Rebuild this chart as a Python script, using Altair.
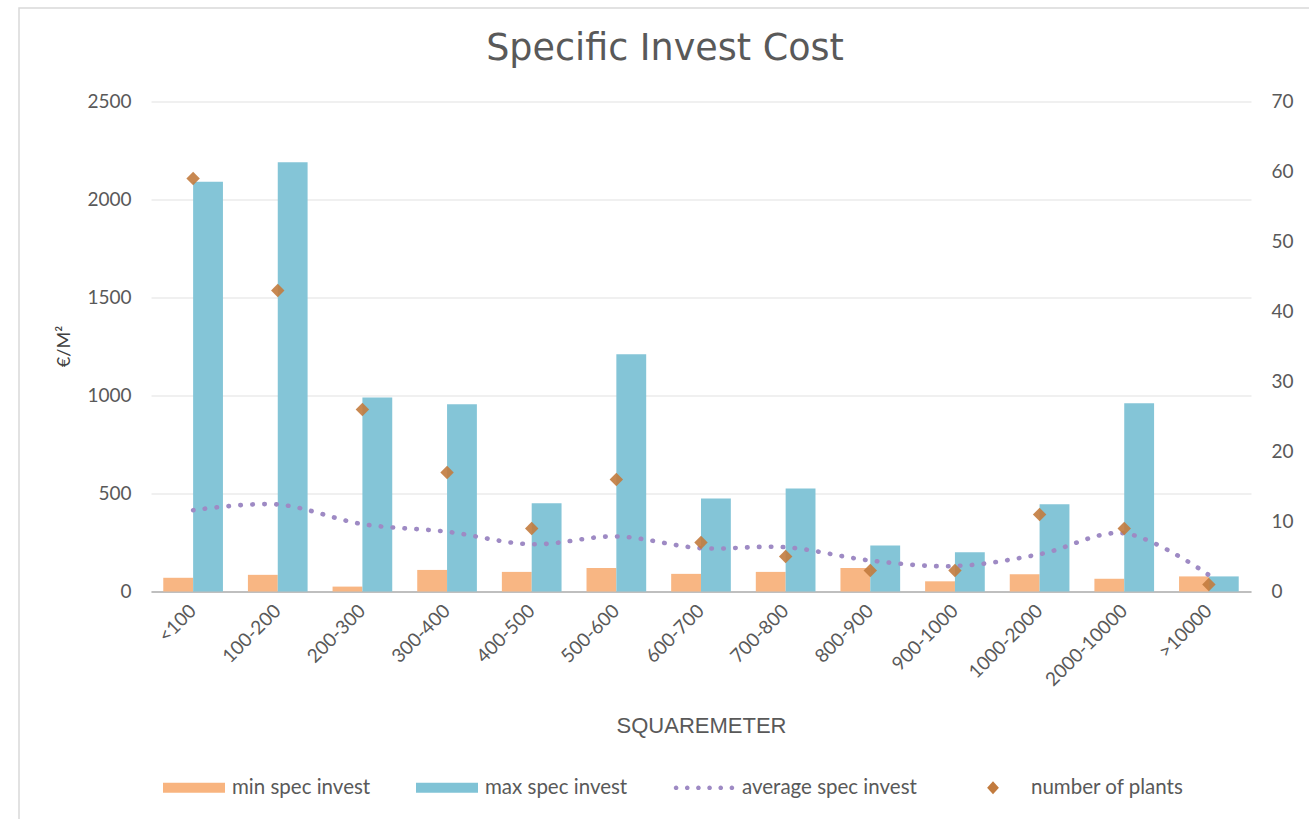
import altair as alt
import pandas as pd

# Size classes (m²)
categories = ["<100", "100-200", "200-300", "300-400", "400-500", "500-600", "600-700",
              "700-800", "800-900", "900-1000", "1000-2000", "2000-10000", ">10000"]
min_invest = [70, 85, 25, 110, 100, 120, 90, 100, 120, 52, 88, 65, 77]
max_invest = [2090, 2190, 990, 955, 450, 1210, 475, 525, 235, 200, 445, 960, 77]
avg_invest = [415, 444, 344, 305, 241, 281, 221, 226, 158, 130, 190, 297, 84]
num_plants = [59, 43, 26, 17, 9, 16, 7, 5, 3, 3, 11, 9, 1]

series = ["min spec invest", "max spec invest", "average spec invest", "number of plants"]
colors = ["#F8B47F", "#80C3D6", "#9E8AC4", "#C27B3E"]

df = pd.DataFrame({
    "cat": categories,
    "min spec invest": min_invest,
    "max spec invest": max_invest,
    "avg": avg_invest,
    "plants": num_plants,
})

FONT = "Lato"
GREY = "#595959"

# legend swatches as custom symbol paths in the [-1, 1] box
bar_path = "M-1,-0.16H1V0.16H-1Z"
r = 0.075
dots_path = "".join(
    f"M{cx - r:.3f},0a{r},{r} 0 1,0 {2 * r},0a{r},{r} 0 1,0 {-2 * r},0"
    for cx in [-0.9, -0.54, -0.18, 0.18, 0.54, 0.9]
)
diamond_path = "M0,-0.21L0.19,0L0,0.21L-0.19,0Z"

x_enc = alt.X(
    "cat:N", sort=categories,
    scale=alt.Scale(paddingInner=0.295, paddingOuter=0.145),
    axis=alt.Axis(
        labelAngle=-45, labelAlign="right", labelBaseline="middle", labelPadding=16,
        labelFont=FONT, labelFontSize=19, labelColor=GREY,
        domainColor="#BFBFBF", domainWidth=2, ticks=False, grid=False,
        title="SQUAREMETER", titleFont="Liberation Sans", titleFontSize=22,
        titleFontWeight="normal", titleColor=GREY, titleY=133.5, titleBaseline="middle",
    ),
)

left_axis = alt.Axis(
    orient="left", values=[0, 500, 1000, 1500, 2000, 2500], format="d",
    grid=True, gridColor="#EBEBEB", gridWidth=1.5, domain=False, ticks=False,
    labelFont=FONT, labelFontSize=19, labelColor=GREY, labelPadding=20,
    title="€/M²", titleFont=FONT, titleFontSize=18, titleFontWeight="normal",
    titleColor="#404040", titleX=-87, titleY=244.5, titleAngle=-90,
    titleAlign="center", titleBaseline="middle",
)
left_scale = alt.Scale(domain=[0, 2500])

base = alt.Chart(df)

# light frame around the chart area
frame = alt.Chart(alt.Data(values=[{"f": 1}])).mark_rect(
    fillOpacity=0, stroke="#D9D9D9", strokeWidth=1.5
).encode(
    x=alt.value(-132), x2=alt.value(1250), y=alt.value(-93.5), y2=alt.value(800)
)

heading = alt.Chart(alt.Data(values=[{"t": "Specific Invest Cost"}])).mark_text(
    font="DejaVu Sans", fontSize=36.5, color=GREY, align="center", baseline="alphabetic"
).encode(text="t:N", x=alt.value(514), y=alt.value(-41.5))

bars = base.transform_fold(
    ["min spec invest", "max spec invest"], as_=["series", "value"]
).mark_bar(opacity=0.97).encode(
    x=x_enc,
    xOffset=alt.XOffset("series:N", sort=["min spec invest", "max spec invest"],
                        scale=alt.Scale(paddingInner=0, paddingOuter=0)),
    y=alt.Y("value:Q", scale=left_scale, axis=left_axis),
    fill=alt.Fill("series:N",
                  scale=alt.Scale(domain=["min spec invest", "max spec invest"],
                                  range=colors[:2]),
                  legend=None),
)

avg_line = base.mark_line(
    interpolate="catmull-rom", color="#9E8AC4", strokeWidth=4.6,
    strokeDash=[0.5, 11.4], strokeCap="round",
).encode(
    x=x_enc,
    y=alt.Y("avg:Q", scale=left_scale, axis=left_axis),
)

legend_def = alt.Legend(
    orient="none", legendX=12, legendY=655, direction="horizontal", columns=4,
    title=None, labelFont=FONT, labelFontSize=20.5, labelColor=GREY, labelLimit=400,
    labelOffset=7, columnPadding=45, symbolSize=3844, symbolStrokeWidth=0,
    symbolOpacity=1,
)

# legend-only layer: its rows are filtered out, the scale domain keeps all entries
legend_layer = alt.Chart(alt.Data(values=[{"series": s} for s in series])).transform_filter(
    "false"
).mark_point(filled=True, opacity=1).encode(
    color=alt.Color("series:N", scale=alt.Scale(domain=series, range=colors),
                    legend=legend_def),
    shape=alt.Shape("series:N",
                    scale=alt.Scale(domain=series,
                                    range=[bar_path, bar_path, dots_path, diamond_path]),
                    legend=legend_def),
)

left_layer = alt.layer(frame, heading, bars, avg_line, legend_layer)

plants = base.mark_point(
    shape="diamond", filled=True, size=180, color="#C27B3E", opacity=0.9
).encode(
    x=x_enc,
    y=alt.Y("plants:Q", scale=alt.Scale(domain=[0, 70]),
            axis=alt.Axis(orient="right", values=list(range(0, 71, 10)), grid=False,
                          domain=False, ticks=False, title=None, labelFont=FONT,
                          labelFontSize=19, labelColor=GREY, labelPadding=20)),
)

chart = alt.layer(left_layer, plants).resolve_scale(
    y="independent"
).properties(
    width=1100, height=490,
    padding={"left": 151, "top": 101.5, "right": 58, "bottom": 227.5},
    autosize=alt.AutoSizeParams(type="none"),
    background="white",
).configure_view(stroke=None)

chart.save("out.html", embed_options={"renderer": "svg", "actions": False})
